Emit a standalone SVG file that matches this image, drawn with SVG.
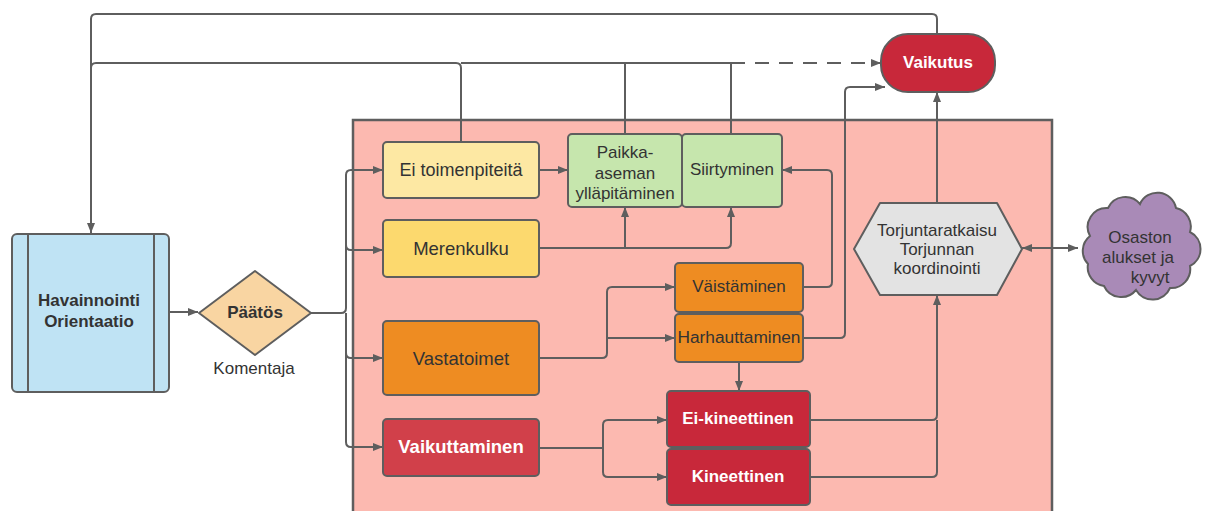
<svg xmlns="http://www.w3.org/2000/svg" width="1209" height="511" viewBox="0 0 1209 511">
<style>
.n{stroke:#5e5e5e;stroke-width:2}
.c{fill:none;stroke:#5e5e5e;stroke-width:2}
.t{font-family:"Liberation Sans",Arial,sans-serif;font-size:17px;fill:#333;text-anchor:middle;dominant-baseline:central}
.b{font-weight:bold}
.w{fill:#fff}
</style>
<defs>
<marker id="a" viewBox="0 0 10 10" refX="10" refY="5" markerWidth="10" markerHeight="10" markerUnits="userSpaceOnUse" orient="auto-start-reverse">
<path d="M0,1 L10,5 L0,9 Z" fill="#5e5e5e"/>
</marker>
</defs>
<rect width="1209" height="511" fill="#fff"/>
<g id="panel"><rect x="353" y="120" width="699" height="400" fill="#fcb9b0" stroke="#5e5e5e" stroke-width="2.5"/></g>
<g id="connectors">
<path class="c" d="M937,34 V19 Q937,14 932,14 H96 Q91,14 91,19 V233" marker-end="url(#a)"/>
<path class="c" d="M461,142 V68 Q461,63 456,63 H96 Q91,63 91,68"/>
<path class="c" d="M625,134 V63"/>
<path class="c" d="M731,134 V63 H461"/>
<path class="c" d="M731,63 H881" stroke-dasharray="14,10" marker-end="url(#a)"/>
<path class="c" d="M169,312 H198" marker-end="url(#a)"/>
<path class="c" d="M311,313 H341 Q346,313 346,308 V175 Q346,170 351,170 H383" marker-end="url(#a)"/>
<path class="c" d="M346,245 Q346,250 351,250 H383" marker-end="url(#a)"/>
<path class="c" d="M346,313 V442 Q346,447 351,447 H383" marker-end="url(#a)"/>
<path class="c" d="M346,353 Q346,358 351,358 H383" marker-end="url(#a)"/>
<path class="c" d="M539,170 H568" marker-end="url(#a)"/>
<path class="c" d="M539,248 H726 Q731,248 731,243 V207" marker-end="url(#a)"/>
<path class="c" d="M625,248 V207" marker-end="url(#a)"/>
<path class="c" d="M539,358 H602 Q607,358 607,353 V292 Q607,287 612,287 H675" marker-end="url(#a)"/>
<path class="c" d="M607,338 H675" marker-end="url(#a)"/>
<path class="c" d="M803,287 H827 Q832,287 832,282 V175 Q832,170 827,170 H782" marker-end="url(#a)"/>
<path class="c" d="M803,338 H840 Q845,338 845,333 V92 Q845,87 850,87 H885" marker-end="url(#a)"/>
<path class="c" d="M739,362 V391" marker-end="url(#a)"/>
<path class="c" d="M539,448 H603 V425 Q603,420 608,420 H667" marker-end="url(#a)"/>
<path class="c" d="M603,448 V472 Q603,477 608,477 H667" marker-end="url(#a)"/>
<path class="c" d="M810,420 H932 Q937,420 937,415 V295" marker-end="url(#a)"/>
<path class="c" d="M810,477 H932 Q937,477 937,472 V420"/>
<path class="c" d="M937,203 V92" marker-end="url(#a)"/>
<path class="c" d="M1022,248 H1078" marker-start="url(#a)" marker-end="url(#a)"/>
</g>
<g id="havainnointi">
<rect class="n" x="12" y="234" width="157" height="158" rx="5" fill="#bfe3f4"/>
<line class="n" x1="28" y1="234" x2="28" y2="392"/>
<line class="n" x1="154" y1="234" x2="154" y2="392"/>
<text class="t b" x="89" y="300">Havainnointi</text>
<text class="t b" x="89" y="321">Orientaatio</text>
</g>
<g id="paatos">
<polygon class="n" points="199,313 255,271 311,313 255,355" fill="#f9d5a2" stroke-linejoin="round"/>
<text class="t b" x="255" y="312">Päätös</text>
<text class="t" x="254" y="368">Komentaja</text>
</g>
<g id="ei-toimenpiteita">
<rect class="n" x="383" y="142" width="156" height="56" rx="4" fill="#fde8a3"/>
<text class="t" x="461" y="170" style="font-size:18px">Ei toimenpiteitä</text>
</g>
<g id="merenkulku">
<rect class="n" x="383" y="220" width="156" height="57" rx="4" fill="#fcd96e"/>
<text class="t" x="461" y="248" style="font-size:18.5px">Merenkulku</text>
</g>
<g id="vastatoimet">
<rect class="n" x="383" y="321" width="156" height="74" rx="4" fill="#ee8c22"/>
<text class="t" x="461" y="358" style="font-size:18.5px">Vastatoimet</text>
</g>
<g id="vaikuttaminen">
<rect class="n" x="383" y="419" width="156" height="57" rx="4" fill="#d1404a"/>
<text class="t b w" x="461" y="446" style="font-size:18.5px">Vaikuttaminen</text>
</g>
<g id="paikka">
<rect class="n" x="568" y="134" width="114" height="73" rx="4" fill="#c6e6ad"/>
<text class="t" x="625" y="152">Paikka-</text>
<text class="t" x="625" y="173">aseman</text>
<text class="t" x="625" y="193">ylläpitäminen</text>
</g>
<g id="siirtyminen">
<rect class="n" x="682" y="134" width="100" height="73" rx="4" fill="#c6e6ad"/>
<text class="t" x="732" y="169">Siirtyminen</text>
</g>
<g id="vaistaminen">
<rect class="n" x="675" y="263" width="128" height="49" rx="4" fill="#ee8c22"/>
<text class="t" x="739" y="286">Väistäminen</text>
</g>
<g id="harhauttaminen">
<rect class="n" x="675" y="314" width="128" height="48" rx="4" fill="#ee8c22"/>
<text class="t" x="739" y="337" style="font-size:17.3px">Harhauttaminen</text>
</g>
<g id="ei-kineettinen">
<rect class="n" x="667" y="391" width="143" height="56" rx="4" fill="#c8283a"/>
<text class="t b w" x="738" y="418">Ei-kineettinen</text>
</g>
<g id="kineettinen">
<rect class="n" x="667" y="449" width="143" height="56" rx="4" fill="#c8283a"/>
<text class="t b w" x="738" y="476">Kineettinen</text>
</g>
<g id="vaikutus">
<rect class="n" x="881" y="34" width="114" height="58" rx="27" fill="#c8283a"/>
<text class="t b w" x="938" y="62">Vaikutus</text>
</g>
<g id="torjunta">
<polygon class="n" points="854,249 880,203 997,203 1022,249 997,295 880,295" fill="#e3e3e3" stroke-linejoin="round"/>
<text class="t" x="937" y="230">Torjuntaratkaisu</text>
<text class="t" x="937" y="249">Torjunnan</text>
<text class="t" x="937" y="268">koordinointi</text>
</g>
<g id="osaston">
<path class="n" fill="#a98ab7" d="M1090,236 A19,19 0 0 1 1108,208 A19,19 0 0 1 1140,204 A19,19 0 0 1 1176,208 A19,19 0 0 1 1190,232 A19,19 0 0 1 1190,266 A19,19 0 0 1 1170,288 A19,19 0 0 1 1136,290 A19,19 0 0 1 1104,286 A19,19 0 0 1 1088,264 A19,19 0 0 1 1090,236 Z"/>
<text class="t" x="1140" y="237">Osaston</text>
<text class="t" x="1138" y="257">alukset ja</text>
<text class="t" x="1150" y="277">kyvyt</text>
</g>
</svg>
